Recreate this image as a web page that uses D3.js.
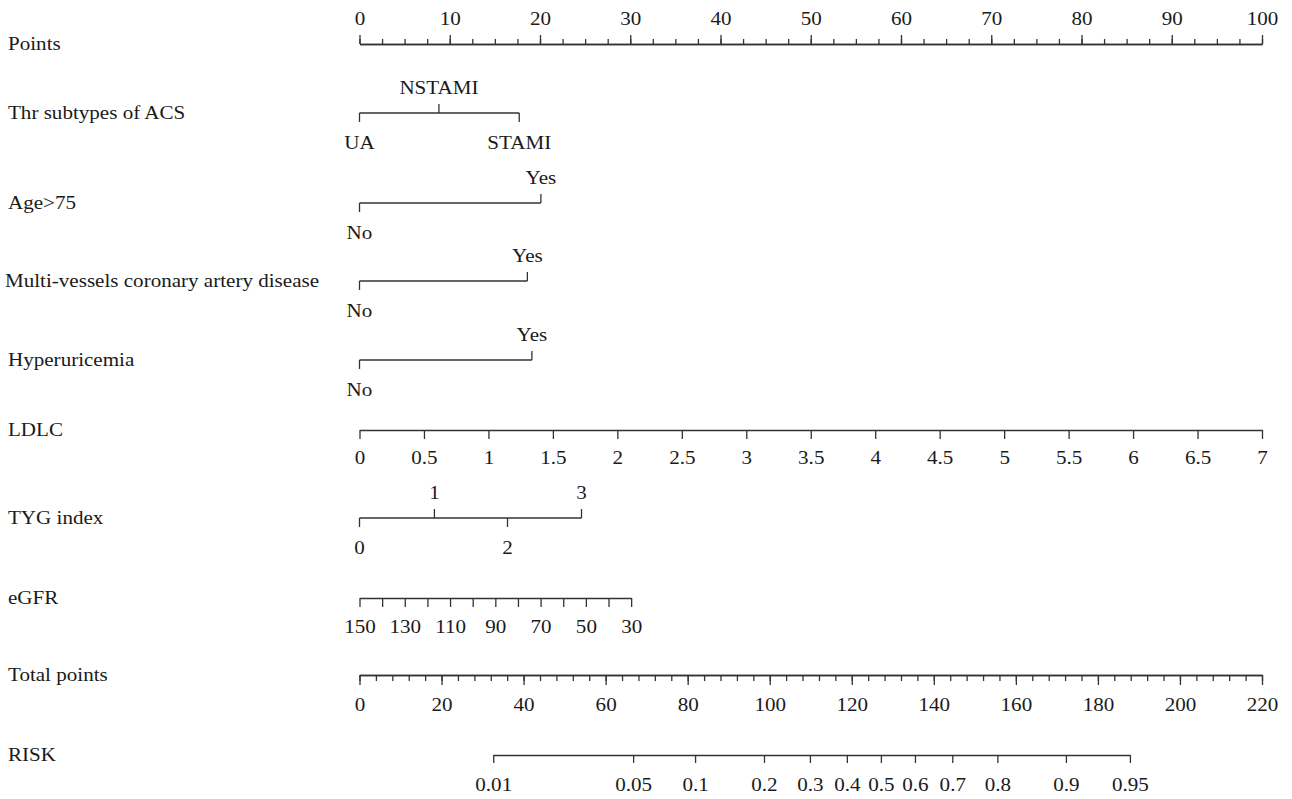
<!DOCTYPE html>
<html>
<head>
<meta charset="utf-8">
<script src="https://cdn.jsdelivr.net/npm/d3@7"></script>
<style>
  html, body { margin: 0; padding: 0; background: #fff; }
  svg text { font-family: "Liberation Serif", "DejaVu Serif", serif; font-size: 18px; fill: #1a1a1a; }
</style>
</head>
<body>
<svg id="chart" width="1292" height="799"></svg>
<script>
// ---------------- DATA ----------------
const rowLabels = ["Points", "Thr subtypes of ACS", "Age>75", "Multi-vessels coronary artery disease",
  "Hyperuricemia", "LDLC", "TYG index", "eGFR", "Total points", "RISK"];

const pointsTicks = [0, 10, 20, 30, 40, 50, 60, 70, 80, 90, 100];
const pointsMinor = d3.range(0, 100.01, 2.5);

const acsLevels = ["UA", "NSTAMI", "STAMI"];
const acsPoints = [0, 8.8, 17.7];

const binaryLevels = ["No", "Yes"];
const agePoints = [0, 20.1];
const multiPoints = [0, 18.6];
const hyperPoints = [0, 19.1];

const ldlcTicks = [0, 0.5, 1, 1.5, 2, 2.5, 3, 3.5, 4, 4.5, 5, 5.5, 6, 6.5, 7];
const ldlcRange = [0, 7];
const ldlcPointRange = [0, 100];

const tygLevels = ["0", "1", "2", "3"];
const tygPoints = [0, 8.3, 16.4, 24.6];

const egfrTicks = [150, 140, 130, 120, 110, 100, 90, 80, 70, 60, 50, 40, 30];
const egfrLabels = [150, 130, 110, 90, 70, 50, 30];
const egfrRange = [150, 30];
const egfrPointRange = [0, 30.1];

const totalTicks = [0, 20, 40, 60, 80, 100, 120, 140, 160, 180, 200, 220];
const totalMinor = d3.range(0, 220.01, 4);

const riskTicks = [0.01, 0.05, 0.1, 0.2, 0.3, 0.4, 0.5, 0.6, 0.7, 0.8, 0.9, 0.95];
const riskTotalPoints = [32.6, 66.7, 81.8, 98.6, 109.8, 118.8, 127.1, 135.4, 144.5, 155.5, 172.2, 187.8];

// ---------------- LAYOUT ----------------
const svg = d3.select("#chart");
const X0 = 359.5, X1 = 1262;
const rowY = [44, 113, 203, 281, 360, 430, 518, 598, 675, 755];
const LINE = "#333";
const SW = 1.3;
const STRETCH = 1.17;

const xPts = d3.scaleLinear().domain([0, 100]).range([X0, X1]);
const xTot = d3.scaleLinear().domain([0, 220]).range([X0, X1]);

// left labels
svg.append("g").selectAll("text").data(rowLabels).join("text")
  .attr("x", (d, i) => i === 3 ? 5 : 8)
  .attr("y", (d, i) => rowY[i])
  .attr("dy", "0.35em")
  .text(d => d);

function styleAxis(g, labelY) {
  g.select(".domain").attr("stroke", LINE).attr("stroke-width", SW);
  g.selectAll(".tick line").attr("stroke", LINE).attr("stroke-width", SW);
  g.selectAll(".tick text").attr("y", labelY).attr("dy", "0.35em")
    .attr("fill", null);
  g.attr("font-family", null).attr("font-size", null);
}

// Points axis (ticks up)
{
  const y = rowY[0];
  const gm = svg.append("g").attr("transform", `translate(0,${y})`)
    .call(d3.axisTop(xPts).tickValues(pointsMinor).tickSize(5).tickSizeOuter(0).tickFormat(""));
  styleAxis(gm, 0);
  const g = svg.append("g").attr("transform", `translate(0,${y})`)
    .call(d3.axisTop(xPts).tickValues(pointsTicks).tickSize(9).tickSizeOuter(0).tickFormat(d3.format("d")));
  styleAxis(g, -25);
}

// Categorical rows
function catRow(levels, pts, y) {
  const g = svg.append("g").attr("transform", `translate(0,${y})`);
  g.append("line").attr("x1", xPts(d3.min(pts))).attr("x2", xPts(d3.max(pts)))
    .attr("y1", 0).attr("y2", 0).attr("stroke", LINE).attr("stroke-width", SW);
  const items = levels.map((l, i) => ({ l, p: pts[i], up: i % 2 === 1 }));
  g.selectAll(".t").data(items).join("line")
    .attr("x1", d => xPts(d.p)).attr("x2", d => xPts(d.p))
    .attr("y1", 0).attr("y2", d => d.up ? -9 : 9)
    .attr("stroke", LINE).attr("stroke-width", SW);
  g.selectAll("text").data(items).join("text")
    .attr("x", d => xPts(d.p)).attr("y", d => d.up ? -25 : 30).attr("dy", "0.35em")
    .attr("text-anchor", "middle").text(d => d.l);
}
catRow(acsLevels, acsPoints, rowY[1]);
catRow(binaryLevels, agePoints, rowY[2]);
catRow(binaryLevels, multiPoints, rowY[3]);
catRow(binaryLevels, hyperPoints, rowY[4]);

// LDLC
{
  const sc = d3.scaleLinear().domain(ldlcRange).range(ldlcPointRange.map(p => xPts(p)));
  const g = svg.append("g").attr("transform", `translate(0,${rowY[5]})`)
    .call(d3.axisBottom(sc).tickValues(ldlcTicks).tickSize(9).tickSizeOuter(0).tickFormat(d => String(d)));
  styleAxis(g, 28);
}

// TYG index
catRow(tygLevels, tygPoints, rowY[6]);

// eGFR
{
  const sc = d3.scaleLinear().domain(egfrRange).range(egfrPointRange.map(p => xPts(p)));
  const g = svg.append("g").attr("transform", `translate(0,${rowY[7]})`)
    .call(d3.axisBottom(sc).tickValues(egfrTicks).tickSize(9).tickSizeOuter(0)
      .tickFormat(d => egfrLabels.includes(d) ? String(d) : ""));
  styleAxis(g, 29);
}

// Total points
{
  const y = rowY[8];
  const gm = svg.append("g").attr("transform", `translate(0,${y})`)
    .call(d3.axisBottom(xTot).tickValues(totalMinor).tickSize(6).tickSizeOuter(0).tickFormat(""));
  styleAxis(gm, 0);
  const g = svg.append("g").attr("transform", `translate(0,${y})`)
    .call(d3.axisBottom(xTot).tickValues(totalTicks).tickSize(10).tickSizeOuter(0).tickFormat(d3.format("d")));
  styleAxis(g, 30);
}

// RISK
{
  const sc = d3.scaleLinear().domain(riskTicks).range(riskTotalPoints.map(p => xTot(p)));
  const g = svg.append("g").attr("transform", `translate(0,${rowY[9]})`)
    .call(d3.axisBottom(sc).tickValues(riskTicks).tickSize(8).tickSizeOuter(0).tickFormat(d => String(d)));
  styleAxis(g, 30);
}

// widen glyphs to match the reference typeface's wider set width
svg.selectAll("text").each(function () {
  const t = d3.select(this);
  if (!t.text()) return;
  const w = this.getComputedTextLength();
  t.attr("textLength", (w * STRETCH).toFixed(2)).attr("lengthAdjust", "spacingAndGlyphs");
});
</script>
</body>
</html>
